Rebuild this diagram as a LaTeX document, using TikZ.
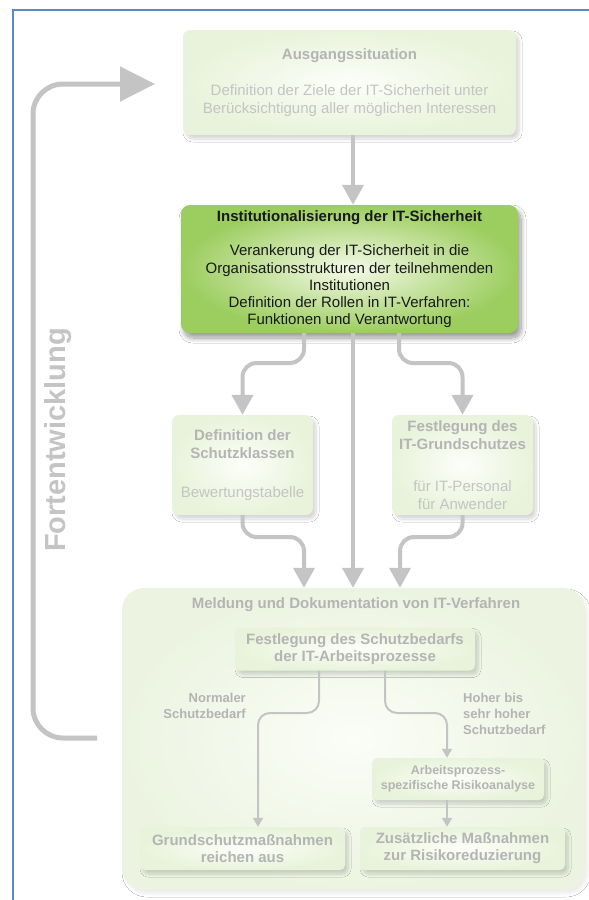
\documentclass[tikz,border=0pt]{standalone}
\usepackage{fontspec}
\setmainfont{Liberation Sans}
\usetikzlibrary{arrows.meta,shadows.blur,calc}

\definecolor{frameblue}{HTML}{5A8AC8}
\definecolor{conn}{HTML}{C4C4C4}
\definecolor{fadetxt}{HTML}{C4C4C4}
\definecolor{fadehead}{HTML}{B4B4B4}
\definecolor{paleout}{HTML}{E9F3DB}
\definecolor{palein}{HTML}{FCFEF8}
\definecolor{greenout}{HTML}{9CCD5F}
\definecolor{greenin}{HTML}{F4FAE8}
\definecolor{groupout}{HTML}{ECF4E1}
\definecolor{groupin}{HTML}{FBFDF7}

\tikzset{
  softshadow/.style={blur shadow={shadow xshift=3pt, shadow yshift=-4pt,
      shadow blur radius=3pt, shadow blur steps=10, shadow opacity=16}},
  fadebox/.style={rounded corners=7pt, inner color=palein, outer color=paleout,
      softshadow, align=center, inner sep=0pt, text=fadetxt,
      font=\fontsize{15}{18.5}\selectfont},
  mainbox/.style={rounded corners=9pt, inner color=greenin, outer color=greenout,
      blur shadow={shadow xshift=3pt, shadow yshift=-5pt, shadow blur radius=5pt,
      shadow blur steps=12, shadow opacity=40}, align=center, inner sep=0pt, text=black!90,
      font=\fontsize{15}{17.2}\selectfont},
  innerbox/.style={rounded corners=5pt, inner color=palein, outer color=paleout,
      softshadow, align=center, inner sep=0pt, text=fadehead,
      font=\bfseries\fontsize{15}{17}\selectfont},
  groupbox/.style={rounded corners=22pt, inner color=groupin, outer color=groupout,
      blur shadow={shadow xshift=3pt, shadow yshift=-4pt, shadow blur radius=3pt,
      shadow opacity=7}, inner sep=0pt},
  caseline/.style={text=fadehead, font=\bfseries\fontsize{13}{15.7}\selectfont, inner sep=0pt},
  bigconn/.style={draw=conn, line width=4pt, rounded corners=14pt,
      -{Triangle[width=21pt,length=20pt]}, fill=none},
  smallconn/.style={draw=conn, line width=2pt, rounded corners=12pt,
      -{Triangle[width=10pt,length=9pt]}, fill=none},
  feedback/.style={draw=conn, line width=5pt, rounded corners=30pt,
      -{Triangle[width=34pt,length=35pt]}},
}

\begin{document}
\begin{tikzpicture}[x=1pt, y=-1pt]
\useasboundingbox (0,0) rectangle (589,900);
\fill[white] (0,0) rectangle (589,900);

% page frame
\draw[frameblue, line width=1.6pt] (13,902) -- (13,10) -- (591,10);

% routing points
\coordinate (fbend) at (97,738);
\coordinate (fbtip) at (155,84);
\coordinate (cL) at (304,363);
\coordinate (cR) at (399,363);
\coordinate (cM) at (353,0);
\coordinate (jL) at (304,537);
\coordinate (jR) at (400,537);
\coordinate (bL) at (319,713);
\coordinate (bR) at (385,713);
\coordinate (aL) at (258,0);
\coordinate (aR) at (447,0);

% feedback loop
\draw[feedback] (fbend) -- (33,738) -- (33,84) -- (fbtip);
\node[rotate=90, text=conn, font=\bfseries\fontsize{29}{30}\selectfont] (fort) at (58,440) {Fortentwicklung};

% starting situation
\node[fadebox, minimum width=333pt, minimum height=105pt] (start) at (349.5,82.5)
  {{\bfseries\color{fadehead}Ausgangssituation}\\[17.5pt]Definition der Ziele der IT-Sicherheit unter\\Berücksichtigung aller möglichen Interessen};

% institutionalisation
\node[mainbox, minimum width=337pt, minimum height=128pt] (inst) at (349.5,269)
  {\textbf{Institutionalisierung der IT-Sicherheit}\\[17.5pt]Verankerung der IT-Sicherheit in die\\Organisationsstrukturen der teilnehmenden\\Institutionen\\Definition der Rollen in IT-Verfahren:\\Funktionen und Verantwortung};

% protection classes and baseline protection
\node[fadebox, minimum width=141pt, minimum height=100pt] (klassen) at (242.5,465)
  {{\bfseries\color{fadehead}Definition der}\\{\bfseries\color{fadehead}Schutzklassen}\\[20pt]Bewertungstabelle};
\node[fadebox, minimum width=141pt, minimum height=100pt] (grund) at (462.5,465)
  {{\bfseries\color{fadehead}Festlegung des}\\{\bfseries\color{fadehead}IT-Grundschutzes}\\[23pt]für IT-Personal\\für Anwender};

% reporting and documentation group
\node[groupbox, minimum width=463pt, minimum height=302pt] (meld) at (353.5,739) {};
\node[text=fadehead, font=\bfseries\fontsize{15}{17}\selectfont, inner sep=0pt] (meldtitle) at (356,605)
  {Meldung und Dokumentation von IT-Verfahren};

\node[innerbox, minimum width=240pt, minimum height=43pt] (bedarf) at (355,649)
  {Festlegung des Schutzbedarfs\\der IT-Arbeitsprozesse};
\node[innerbox, minimum width=172pt, minimum height=42pt,
      font=\bfseries\fontsize{12.5}{15}\selectfont] (risiko) at (458,779)
  {Arbeitsprozess-\\spezifische Risikoanalyse};
\node[innerbox, minimum width=205pt, minimum height=43pt] (massn) at (242.5,848.5)
  {Grundschutzmaßnahmen\\reichen aus};
\node[innerbox, minimum width=205pt, minimum height=43pt] (zus) at (462.5,848.5)
  {Zusätzliche Maßnahmen\\zur Risikoreduzierung};

\node[caseline, anchor=east, align=right] (normal) at (246,706)
  {Normaler\\Schutzbedarf};
\node[caseline, anchor=west, align=left] (hoch) at (463,714)
  {Hoher bis\\sehr hoher\\Schutzbedarf};

% connectors
\draw[bigconn] (start.south -| cM) -- (inst.north -| cM);
\draw[bigconn] (inst.south -| cL) -- (cL) -| (klassen.north);
\draw[bigconn] (inst.south -| cR) -- (cR) -| (grund.north);
\draw[bigconn] (inst.south -| cM) -- (meld.north -| cM);
\draw[bigconn] (klassen.south) |- (jL) -- (meld.north -| jL);
\draw[bigconn] (grund.south) |- (jR) -- (meld.north -| jR);

\draw[smallconn] (bedarf.south -| bL) -- (bL) -| (massn.north -| aL);
\draw[smallconn] (bedarf.south -| bR) -- (bR) -| (risiko.north -| aR);
\draw[smallconn] (risiko.south -| aR) -- (zus.north -| aR);
\end{tikzpicture}
\end{document}
